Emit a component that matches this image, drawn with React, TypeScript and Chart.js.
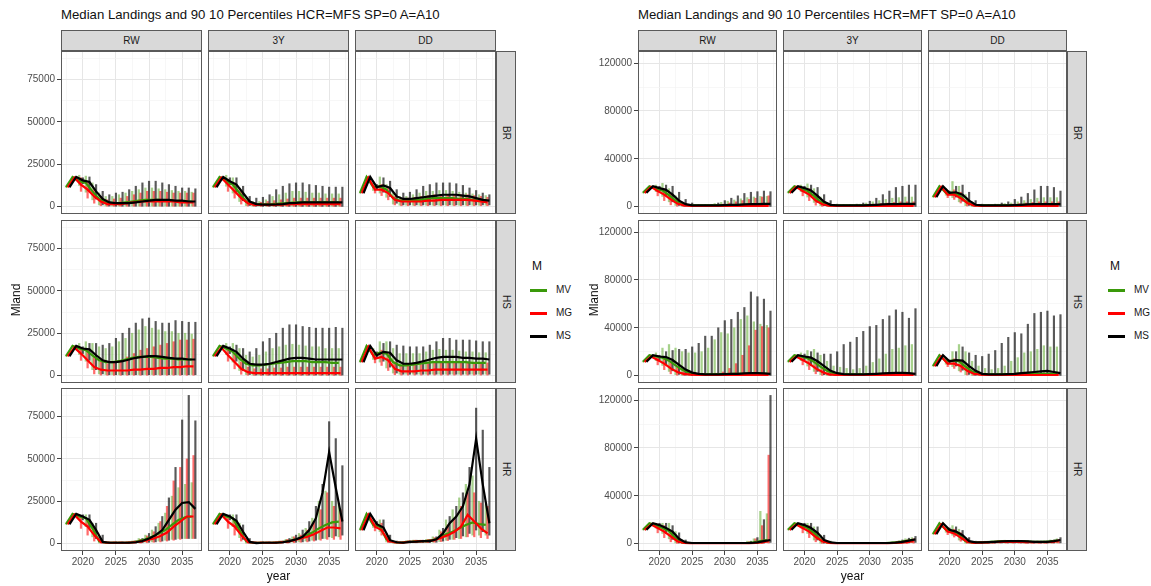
import React, { useEffect, useRef } from 'react';
import { Chart, registerables } from 'chart.js';
Chart.register(...registerables);
Chart.defaults.font.family = '"Liberation Sans", Arial, sans-serif';

// ---------------- data (values in thousands of Mland) ----------------
const YEARS = [2018, 2019, 2020, 2021, 2022, 2023, 2024, 2025, 2026, 2027, 2028, 2029, 2030, 2031, 2032, 2033, 2034, 2035, 2036, 2037];
const COLUMNS = ['RW', '3Y', 'DD'];
const ROWS = ['BR', 'HS', 'HR'];
const SERIES = ['MV', 'MG', 'MS'];
const UNIT = 1000;

// ===== HCR = MFS =====
const MFS_RW_BR_MV_MED = [11.5, 17.5, 15, 14, 9, 4.5, 2.5, 2, 2, 2.5, 3, 3.5, 4, 4, 4, 3.5, 3.5, 3, 3, 3];
const MFS_RW_BR_MV_LO = [11.5, 17, 12.5, 8.5, 4, 1, 0.4, 0.3, 0.3, 0.3, 0.3, 0.3, 0.3, 0.3, 0.3, 0.3, 0.3, 0.3, 0.3, 0.3];
const MFS_RW_BR_MV_HI = [11.5, 17.5, 18.5, 18, 14, 8, 6, 6, 7, 8, 9, 10, 11, 11, 10.5, 10, 9.5, 9, 9, 8.5];
const MFS_RW_BR_MG_MED = [11.5, 17, 13, 10, 6, 3, 1.5, 1.5, 1.5, 2, 2.5, 3, 3, 3, 3, 3, 3, 2.5, 2.5, 2.5];
const MFS_RW_BR_MG_LO = [11.5, 16, 9, 5, 2, 0.5, 0.2, 0.2, 0.2, 0.2, 0.2, 0.2, 0.2, 0.2, 0.2, 0.2, 0.2, 0.2, 0.2, 0.2];
const MFS_RW_BR_MG_HI = [11.5, 17.5, 17, 15, 10, 6, 4, 4.5, 5, 6, 7, 8, 9, 9, 9, 8.5, 8, 8, 8, 8];
const MFS_RW_BR_MS_MED = [11.5, 17.5, 15.5, 14.5, 9, 4.5, 2.5, 2, 2, 2, 2.5, 3, 3.5, 4, 4, 4, 3.5, 3.5, 3, 3];
const MFS_RW_BR_MS_LO = [11.5, 17.5, 13.5, 9.5, 4.5, 1, 0.3, 0.2, 0.2, 0.2, 0.2, 0.2, 0.2, 0.2, 0.2, 0.2, 0.2, 0.2, 0.2, 0.2];
const MFS_RW_BR_MS_HI = [11.5, 17.5, 17, 17.5, 13, 9, 7, 8, 8.5, 10, 12, 14, 15, 15, 14, 13, 12, 11, 11, 10.5];

const MFS_3Y_BR_MV_MED = [11.5, 17.5, 15, 13, 8, 3, 1.5, 1.3, 1.3, 1.5, 1.8, 2, 2.3, 2.5, 2.5, 2.5, 2.5, 2.5, 2.5, 2.5];
const MFS_3Y_BR_MV_LO = [11.5, 17, 12, 8, 3, 0.6, 0.2, 0.2, 0.2, 0.2, 0.2, 0.2, 0.2, 0.2, 0.2, 0.2, 0.2, 0.2, 0.2, 0.2];
const MFS_3Y_BR_MV_HI = [11.5, 17.5, 18.5, 17, 11, 5, 3, 3, 4, 6, 7, 8, 9, 9, 8.5, 8, 8, 7.5, 7.5, 7.5];
const MFS_3Y_BR_MG_MED = [11.5, 17, 13, 9, 5, 2, 1, 1, 1, 1, 1.2, 1.3, 1.5, 1.5, 1.5, 1.5, 1.5, 1.5, 1.5, 1.5];
const MFS_3Y_BR_MG_LO = [11.5, 16, 9, 5, 1.5, 0.3, 0.1, 0.1, 0.1, 0.1, 0.1, 0.1, 0.1, 0.1, 0.1, 0.1, 0.1, 0.1, 0.1, 0.1];
const MFS_3Y_BR_MG_HI = [11.5, 17.5, 16, 14, 9, 4, 2.5, 2.5, 3, 3.5, 4, 4.5, 5, 5, 5, 5, 5, 5, 5, 5];
const MFS_3Y_BR_MS_MED = [11.5, 17.5, 15, 13, 8, 3, 1.5, 1.2, 1.2, 1.3, 1.5, 2, 2.2, 2.5, 2.5, 2.5, 2.5, 2.5, 2.5, 2.5];
const MFS_3Y_BR_MS_LO = [11.5, 17.5, 13, 8.5, 3.5, 0.6, 0.2, 0.1, 0.1, 0.1, 0.1, 0.1, 0.1, 0.1, 0.1, 0.1, 0.1, 0.1, 0.1, 0.1];
const MFS_3Y_BR_MS_HI = [11.5, 17.5, 17, 17, 12, 6, 5, 5.5, 7, 10, 12, 13.5, 14, 14, 13, 12.5, 12, 11.5, 11.5, 11.5];

const MFS_DD_BR_MV_MED = [8, 17.5, 11.5, 12, 10, 5, 3.5, 3.5, 4, 4, 4.5, 5, 5, 5, 5, 4.5, 4.5, 4, 3.5, 3];
const MFS_DD_BR_MV_LO = [8, 17, 9.5, 8, 5.5, 1.5, 0.8, 0.8, 0.8, 0.8, 0.8, 0.8, 0.8, 0.8, 0.8, 0.8, 0.8, 0.8, 0.8, 0.8];
const MFS_DD_BR_MV_HI = [8, 17.5, 14, 17.5, 13, 8, 6, 6, 7, 8, 9, 9, 9.5, 9.5, 9, 8.5, 8, 7.5, 7, 6.5];
const MFS_DD_BR_MG_MED = [8, 17, 10, 10, 8, 4, 3, 3, 3, 3, 3.5, 3.5, 4, 4, 4, 4, 4, 3.5, 3, 2.5];
const MFS_DD_BR_MG_LO = [8, 16, 8, 6.5, 4, 1, 0.5, 0.5, 0.5, 0.5, 0.5, 0.5, 0.5, 0.5, 0.5, 0.5, 0.5, 0.5, 0.5, 0.5];
const MFS_DD_BR_MG_HI = [8, 17.5, 12, 13, 11, 6, 5, 5, 5.5, 6, 6.5, 7, 7, 7, 7, 7, 7, 6.5, 6, 5.5];
const MFS_DD_BR_MS_MED = [8, 17.5, 11.5, 12.5, 11, 6, 4.5, 4.5, 5, 5.5, 6, 6.5, 7, 7, 7, 6.5, 6, 5, 4, 3.5];
const MFS_DD_BR_MS_LO = [8, 17.5, 10, 8.5, 6, 2, 1, 1, 1, 1, 1, 1, 1, 1, 1, 1, 1, 1, 1, 1];
const MFS_DD_BR_MS_HI = [8, 17.5, 13, 17, 15, 10, 8, 8.5, 10, 12, 13, 14, 14, 14, 13.5, 12.5, 11, 9.5, 8, 7];

const MFS_RW_HS_MV_MED = [11.5, 17.5, 16, 15, 12, 9, 8, 8, 8.5, 9.5, 10.5, 11, 11, 11, 10.5, 10, 10, 9.5, 9.5, 9.5];
const MFS_RW_HS_MV_LO = [11.5, 17, 12.5, 8.5, 3.5, 1, 0.6, 0.6, 0.6, 0.6, 0.6, 0.6, 0.6, 0.6, 0.6, 0.6, 0.6, 0.6, 0.6, 0.6];
const MFS_RW_HS_MV_HI = [11.5, 17.5, 19, 20, 19, 17, 16, 17, 20, 22, 25, 27, 29, 28, 27, 26, 26, 25, 25, 24.5];
const MFS_RW_HS_MG_MED = [11.5, 16.5, 13, 9, 5, 3.5, 3, 3, 3, 3, 3.5, 3.5, 4, 4, 4.5, 4.5, 5, 5, 5.5, 5.5];
const MFS_RW_HS_MG_LO = [11.5, 16, 9, 4.5, 1, 0.3, 0.2, 0.2, 0.2, 0.2, 0.2, 0.2, 0.2, 0.2, 0.2, 0.2, 0.2, 0.2, 0.2, 0.2];
const MFS_RW_HS_MG_HI = [11.5, 17.5, 16, 15, 11, 8, 7, 8, 9, 11, 13, 15, 16, 17, 18, 19, 20, 21, 21, 21.5];
const MFS_RW_HS_MS_MED = [11.5, 17.5, 16, 15.5, 12, 9, 8, 8, 8.5, 9.5, 10.5, 11, 11.5, 11.5, 11, 10.5, 10, 10, 9.5, 9.5];
const MFS_RW_HS_MS_LO = [11.5, 17, 13, 9, 3.5, 1, 0.5, 0.5, 0.5, 0.5, 0.5, 0.5, 0.5, 0.5, 0.5, 0.5, 0.5, 0.5, 0.5, 0.5];
const MFS_RW_HS_MS_HI = [11.5, 17.5, 17, 19, 19, 18, 19, 22, 25, 28, 31, 33.5, 34, 32, 31, 31, 32.5, 32, 31.5, 31.5];

const MFS_3Y_HS_MV_MED = [11.5, 17.5, 16, 14, 10, 7, 6, 6, 6.5, 7, 7.5, 8, 8.5, 8.5, 8.5, 8, 8, 8, 7.5, 7.5];
const MFS_3Y_HS_MV_LO = [11.5, 17, 12.5, 8, 3, 0.6, 0.3, 0.3, 0.3, 0.3, 0.3, 0.3, 0.3, 0.3, 0.3, 0.3, 0.3, 0.3, 0.3, 0.3];
const MFS_3Y_HS_MV_HI = [11.5, 17.5, 19, 19, 16, 12, 11, 12, 14, 16, 17, 18, 18.5, 18, 17.5, 17, 17, 16, 16, 16];
const MFS_3Y_HS_MG_MED = [11.5, 16.5, 12, 8, 4, 2, 1.5, 1.5, 1.5, 1.5, 1.5, 1.5, 1.5, 1.5, 1.5, 1.5, 1.5, 1.5, 1.5, 1.5];
const MFS_3Y_HS_MG_LO = [11.5, 16, 8.5, 4, 0.8, 0.2, 0.1, 0.1, 0.1, 0.1, 0.1, 0.1, 0.1, 0.1, 0.1, 0.1, 0.1, 0.1, 0.1, 0.1];
const MFS_3Y_HS_MG_HI = [11.5, 17.5, 15, 13, 8, 5, 4, 4, 4, 4.5, 4.5, 5, 5, 5, 5, 5, 5, 5, 5, 5];
const MFS_3Y_HS_MS_MED = [11.5, 17.5, 16, 14, 10, 7, 6.5, 6.5, 7, 8, 9, 10, 10.5, 10.5, 10, 9.5, 9.5, 9.5, 9.5, 9.5];
const MFS_3Y_HS_MS_LO = [11.5, 17, 13, 8.5, 3, 0.6, 0.3, 0.3, 0.3, 0.3, 0.3, 0.3, 0.3, 0.3, 0.3, 0.3, 0.3, 0.3, 0.3, 0.3];
const MFS_3Y_HS_MS_HI = [11.5, 17.5, 17, 18, 16, 14, 16, 20, 22, 25, 28, 30, 30, 29, 28.5, 28, 28, 28, 28.5, 28];

const MFS_DD_HS_MV_MED = [8, 17.5, 12, 13.5, 13, 8, 6, 6, 6.5, 7, 7.5, 8, 8, 8, 8, 8, 8, 7.5, 7.5, 7.5];
const MFS_DD_HS_MV_LO = [8, 17, 9.5, 8, 4.5, 1.5, 0.8, 0.8, 0.8, 0.8, 0.8, 0.8, 0.8, 0.8, 0.8, 0.8, 0.8, 0.8, 0.8, 0.8];
const MFS_DD_HS_MV_HI = [8, 17.5, 16, 20, 20, 16, 13, 13, 13, 13, 14, 15, 15.5, 15, 15, 14.5, 14, 14, 13.5, 13.5];
const MFS_DD_HS_MG_MED = [8, 17, 10, 11, 9, 4, 2.5, 2.5, 2.5, 3, 3, 3.5, 3.5, 3.5, 3.5, 3.5, 3.5, 3.5, 3.5, 3.5];
const MFS_DD_HS_MG_LO = [8, 16, 7.5, 6, 3, 0.5, 0.3, 0.3, 0.3, 0.3, 0.3, 0.3, 0.3, 0.3, 0.3, 0.3, 0.3, 0.3, 0.3, 0.3];
const MFS_DD_HS_MG_HI = [8, 17.5, 13, 15, 13, 8, 6, 6, 6, 6.5, 7, 7.5, 7.5, 7.5, 7.5, 7.5, 7.5, 7.5, 7.5, 7.5];
const MFS_DD_HS_MS_MED = [8, 17.5, 12, 14, 13.5, 9, 7, 7, 7.5, 8.5, 9.5, 10.5, 11, 11, 11, 10.5, 10.5, 10, 10, 9.5];
const MFS_DD_HS_MS_LO = [8, 17, 10, 8.5, 5, 1.5, 0.8, 0.8, 0.8, 0.8, 0.8, 0.8, 0.8, 0.8, 0.8, 0.8, 0.8, 0.8, 0.8, 0.8];
const MFS_DD_HS_MS_HI = [8, 17.5, 14, 19, 20, 18, 17.5, 17, 17, 17, 18, 20, 22, 22, 21, 21, 21, 20.5, 20, 20];

const MFS_RW_HR_MV_MED = [11.5, 17.5, 16, 15, 9, 1.5, 0.5, 0.5, 0.5, 0.5, 0.8, 1.5, 2.5, 4, 6, 8, 11, 14, 15.5, 16];
const MFS_RW_HR_MV_LO = [11.5, 17, 14, 10, 4, 0.4, 0.2, 0.2, 0.2, 0.2, 0.3, 0.5, 0.8, 1, 1.5, 2, 2.5, 3, 3, 3];
const MFS_RW_HR_MV_HI = [11.5, 17.5, 17, 17, 12, 4, 1, 1, 1, 1, 1.5, 3, 5, 8, 12, 18, 28, 33, 35, 36];
const MFS_RW_HR_MG_MED = [11.5, 17, 13, 10, 5, 1, 0.5, 0.5, 0.5, 0.5, 0.8, 1.2, 2, 3, 4.5, 6.5, 10, 13, 16, 16];
const MFS_RW_HR_MG_LO = [11.5, 16, 9, 5, 1.5, 0.2, 0.1, 0.1, 0.1, 0.1, 0.2, 0.3, 0.5, 0.8, 1, 1.5, 2, 2.5, 3, 3];
const MFS_RW_HR_MG_HI = [11.5, 17.5, 16, 14, 9, 3, 1, 1, 1, 1, 1.5, 2.5, 4.5, 7, 13, 22, 37, 45, 50, 52];
const MFS_RW_HR_MS_MED = [11.5, 17.5, 16, 14, 8, 1, 0.5, 0.5, 0.5, 0.5, 0.8, 1.5, 3, 5, 8, 14, 20, 24, 24.5, 20.5];
const MFS_RW_HR_MS_LO = [11.5, 17, 14, 9, 3, 0.3, 0.2, 0.2, 0.2, 0.2, 0.3, 0.5, 0.8, 1, 1.5, 2, 2.5, 3, 3, 3];
const MFS_RW_HR_MS_HI = [11.5, 17.5, 17, 17, 12, 5, 1, 1, 1, 1, 1.5, 3, 6, 10, 16, 27, 45, 73, 87.5, 72.5];

const MFS_3Y_HR_MV_MED = [11.5, 17.5, 16, 15, 8, 1.5, 0.5, 0.5, 0.5, 0.5, 0.8, 1.2, 2, 3, 4.5, 6.5, 9, 11, 12.5, 13];
const MFS_3Y_HR_MV_LO = [11.5, 17, 14, 10, 3.5, 0.3, 0.1, 0.2, 0.2, 0.2, 0.3, 0.5, 0.8, 1, 1.5, 2, 2.5, 3, 3.5, 4];
const MFS_3Y_HR_MV_HI = [11.5, 17.5, 17, 17, 12, 3, 1, 1, 1, 1, 1.5, 2.5, 4, 6, 9, 15, 25, 31, 25, 24];
const MFS_3Y_HR_MG_MED = [11.5, 17, 13, 10, 5, 1, 0.5, 0.5, 0.5, 0.5, 0.8, 1.2, 2, 3, 4, 5.5, 7.5, 9.5, 9.5, 9];
const MFS_3Y_HR_MG_LO = [11.5, 16, 9, 5, 1.5, 0.2, 0.1, 0.1, 0.1, 0.1, 0.2, 0.3, 0.5, 0.8, 1, 1.5, 2, 2.5, 2.5, 2.5];
const MFS_3Y_HR_MG_HI = [11.5, 17.5, 16, 14, 8, 2, 1, 1, 1, 1, 1.5, 2.5, 4, 5, 8, 13, 20, 30, 22, 20];
const MFS_3Y_HR_MS_MED = [11.5, 17.5, 16, 13.5, 7, 1, 0.3, 0.5, 0.5, 0.5, 0.8, 1.5, 2.5, 4, 8, 15, 30, 54, 33, 13];
const MFS_3Y_HR_MS_LO = [11.5, 17, 14, 8.5, 2.5, 0.2, 0.1, 0.2, 0.2, 0.2, 0.3, 0.5, 0.8, 1, 1.5, 2, 3, 4, 4.5, 5];
const MFS_3Y_HR_MS_HI = [11.5, 17.5, 17, 17, 11, 3, 1, 1, 1, 1, 1.5, 3, 5, 8, 13, 22, 35, 72, 62, 46];

const MFS_DD_HR_MV_MED = [8, 17.5, 11, 10, 2.5, 1, 0.5, 1, 1.2, 1.5, 1.5, 2, 3.5, 5.5, 7, 9, 11, 12.5, 11.5, 11];
const MFS_DD_HR_MV_LO = [8, 17, 9.5, 7, 1, 0.3, 0.2, 0.4, 0.5, 0.6, 0.6, 0.8, 1.2, 2, 2.5, 3, 4, 5, 5, 5];
const MFS_DD_HR_MV_HI = [8, 17.5, 14, 14, 6, 1.5, 1, 1.5, 2, 2, 2.5, 4, 8, 14, 20, 27, 35, 40, 25, 23];
const MFS_DD_HR_MG_MED = [8, 17, 10, 8, 1.5, 0.8, 0.5, 1, 1.2, 1.5, 1.5, 2, 3.5, 5, 7, 10, 17, 13, 9, 6];
const MFS_DD_HR_MG_LO = [8, 16, 7.5, 5, 0.6, 0.2, 0.2, 0.4, 0.5, 0.6, 0.6, 0.8, 1.2, 1.8, 2.5, 3, 4, 4, 3.5, 3];
const MFS_DD_HR_MG_HI = [8, 17.5, 12, 12, 4, 1.2, 1, 1.5, 2, 2, 2.5, 3.5, 7, 11, 15, 22, 30, 30, 24, 22];
const MFS_DD_HR_MS_MED = [8, 17.5, 11.5, 9.5, 2, 0.8, 0.5, 1, 1.2, 1.5, 1.5, 2.5, 6, 12, 16, 22, 35, 62, 35, 12];
const MFS_DD_HR_MS_LO = [8, 17, 10, 7, 0.8, 0.3, 0.2, 0.4, 0.5, 0.6, 0.6, 0.8, 1.5, 2.5, 3.5, 4.5, 6, 8, 7, 5];
const MFS_DD_HR_MS_HI = [8, 17.5, 13, 14, 5, 1.5, 1, 1.5, 2, 2, 2.5, 4, 9, 16, 22, 30, 45, 80, 67, 45];

// ===== HCR = MFT =====
const MFT_RW_BR_MV_MED = [11.5, 17, 15, 13.5, 9.5, 5, 2, 1, 1, 1, 1, 1, 1, 1.2, 1.3, 1.5, 1.5, 1.5, 1.5, 1.5];
const MFT_RW_BR_MV_LO = [11.5, 16.5, 12.5, 8.5, 4, 1, 0.3, 0.1, 0.1, 0.1, 0.1, 0.1, 0.1, 0.1, 0.1, 0.1, 0.1, 0.1, 0.1, 0.1];
const MFT_RW_BR_MV_HI = [11.5, 17, 18, 19.5, 15, 9, 4, 2, 1.5, 1.5, 1.5, 2.5, 3.5, 4.5, 5.5, 6.5, 7.5, 8, 8.5, 8.5];
const MFT_RW_BR_MG_MED = [11.5, 16.5, 13, 10, 6, 2.5, 1, 0.5, 0.5, 0.5, 0.5, 0.5, 0.5, 0.5, 0.5, 0.5, 0.5, 0.5, 0.5, 0.5];
const MFT_RW_BR_MG_LO = [11.5, 16, 9, 5, 1.5, 0.3, 0.1, 0, 0, 0, 0, 0, 0, 0, 0, 0, 0, 0, 0, 0];
const MFT_RW_BR_MG_HI = [11.5, 17, 16, 15, 11, 6, 2.5, 1, 1, 1, 1, 1.5, 2, 3, 4, 5, 6, 7, 8, 9];
const MFT_RW_BR_MS_MED = [11.5, 17, 15.5, 14, 10, 5, 2, 1, 1, 1, 1, 1, 1.2, 1.5, 1.5, 1.8, 2, 2, 2.2, 2.2];
const MFT_RW_BR_MS_LO = [11.5, 16.5, 13, 9, 4, 1, 0.3, 0.1, 0.1, 0.1, 0.1, 0.1, 0.1, 0.1, 0.1, 0.1, 0.1, 0.1, 0.1, 0.1];
const MFT_RW_BR_MS_HI = [11.5, 17, 17, 18, 17, 12, 6, 3, 1.5, 1.5, 1.5, 3, 5, 7, 9, 11, 12, 12.5, 13, 12.5];

const MFT_3Y_BR_MV_MED = [11.5, 17, 15, 13, 9, 4, 1.5, 1, 1, 1, 1, 1, 1, 1.2, 1.3, 1.5, 1.5, 1.5, 1.5, 1.5];
const MFT_3Y_BR_MV_LO = [11.5, 16.5, 12.5, 8, 3.5, 0.8, 0.2, 0.1, 0.1, 0.1, 0.1, 0.1, 0.1, 0.1, 0.1, 0.1, 0.1, 0.1, 0.1, 0.1];
const MFT_3Y_BR_MV_HI = [11.5, 17, 18, 19, 15, 8, 3, 1.5, 1.5, 1.5, 1.5, 2, 3, 4, 5, 6, 7, 7.5, 8, 8];
const MFT_3Y_BR_MG_MED = [11.5, 16.5, 13, 10, 5, 2, 0.8, 0.5, 0.5, 0.5, 0.5, 0.5, 0.5, 0.5, 0.5, 0.5, 0.5, 0.5, 0.5, 0.5];
const MFT_3Y_BR_MG_LO = [11.5, 16, 9, 5, 1.2, 0.2, 0.1, 0, 0, 0, 0, 0, 0, 0, 0, 0, 0, 0, 0, 0];
const MFT_3Y_BR_MG_HI = [11.5, 17, 16, 15, 10, 5, 2, 1, 1, 1, 1, 1, 1.5, 2, 2.5, 3, 3.5, 4, 4, 4];
const MFT_3Y_BR_MS_MED = [11.5, 17, 15.5, 13.5, 9, 4, 1.5, 1, 1, 1, 1, 1, 1.2, 1.5, 1.8, 2, 2, 2.2, 2.2, 2.2];
const MFT_3Y_BR_MS_LO = [11.5, 16.5, 13, 8.5, 3.5, 0.8, 0.2, 0.1, 0.1, 0.1, 0.1, 0.1, 0.1, 0.1, 0.1, 0.1, 0.1, 0.1, 0.1, 0.1];
const MFT_3Y_BR_MS_HI = [11.5, 17, 17, 18, 16, 10, 5, 2, 1.5, 1.5, 2, 3, 4.5, 7, 10, 13, 16, 17, 18, 18];

const MFT_DD_BR_MV_MED = [8, 17, 11.5, 11.5, 9.5, 4.5, 1.5, 1, 1, 1, 1, 1, 1.2, 1.3, 1.5, 1.5, 1.5, 1.5, 1.5, 1.5];
const MFT_DD_BR_MV_LO = [8, 16.5, 9.5, 7.5, 4, 0.8, 0.2, 0.1, 0.1, 0.1, 0.1, 0.1, 0.1, 0.1, 0.1, 0.1, 0.1, 0.1, 0.1, 0.1];
const MFT_DD_BR_MV_HI = [8, 17, 15, 21, 17, 10, 4, 1.5, 1.5, 1.5, 2, 2.5, 3, 4, 5, 6, 7, 7.5, 7.5, 7.5];
const MFT_DD_BR_MG_MED = [8, 16.5, 10, 10, 7, 3, 1, 0.5, 0.5, 0.5, 0.5, 0.5, 0.5, 0.5, 0.5, 0.5, 0.5, 0.5, 0.5, 0.5];
const MFT_DD_BR_MG_LO = [8, 16, 7.5, 6, 3, 0.5, 0.1, 0, 0, 0, 0, 0, 0, 0, 0, 0, 0, 0, 0, 0];
const MFT_DD_BR_MG_HI = [8, 17, 12, 14, 12, 6, 2, 1, 1, 1, 1, 1.5, 2, 2.5, 3, 3.5, 4, 4, 4, 4];
const MFT_DD_BR_MS_MED = [8, 17, 11.5, 12, 10, 5, 1.5, 1, 1, 1, 1, 1, 1.2, 1.5, 1.8, 2, 2, 2, 2, 2];
const MFT_DD_BR_MS_LO = [8, 16.5, 10, 8, 4.5, 1, 0.2, 0.1, 0.1, 0.1, 0.1, 0.1, 0.1, 0.1, 0.1, 0.1, 0.1, 0.1, 0.1, 0.1];
const MFT_DD_BR_MS_HI = [8, 17, 13, 17, 18, 12, 5, 2, 1.5, 2, 3, 4, 6, 8, 11, 14, 17, 17, 16, 13];

const MFT_RW_HS_MV_MED = [11.5, 17, 16, 15, 12.5, 8.5, 5, 2.5, 1.5, 1, 1, 1, 1.2, 1.3, 1.5, 1.5, 1.5, 1.5, 1.5, 1.5];
const MFT_RW_HS_MV_LO = [11.5, 16.5, 12.5, 8.5, 3.5, 0.8, 0.3, 0.1, 0.1, 0.1, 0.1, 0.1, 0.1, 0.1, 0.1, 0.1, 0.1, 0.1, 0.1, 0.1];
const MFT_RW_HS_MV_HI = [11.5, 17, 19, 23, 26, 23, 20, 19, 19, 20, 23, 30, 36, 35, 40, 47, 50, 45, 43, 42];
const MFT_RW_HS_MG_MED = [11.5, 16, 13, 10, 6, 3, 1.5, 0.8, 0.5, 0.5, 0.5, 0.5, 0.5, 0.5, 0.5, 0.5, 0.5, 0.5, 0.5, 0.5];
const MFT_RW_HS_MG_LO = [11.5, 15.5, 9, 5, 1.5, 0.3, 0.1, 0, 0, 0, 0, 0, 0, 0, 0, 0, 0, 0, 0, 0];
const MFT_RW_HS_MG_HI = [11.5, 17, 16, 15, 12, 8, 4, 2, 1.5, 1.5, 1.5, 2, 3, 6, 10, 17, 25, 38, 41, 40];
const MFT_RW_HS_MS_MED = [11.5, 17, 16, 15.5, 13, 9, 5, 2.5, 1.5, 1, 1, 1, 1.2, 1.5, 1.5, 1.8, 2, 2, 1.8, 1.5];
const MFT_RW_HS_MS_LO = [11.5, 16.5, 13, 9, 4, 1, 0.3, 0.1, 0.1, 0.1, 0.1, 0.1, 0.1, 0.1, 0.1, 0.1, 0.1, 0.1, 0.1, 0.1];
const MFT_RW_HS_MS_HI = [11.5, 17, 17, 20, 21, 22, 22, 24, 27, 33, 33, 40, 46, 47, 53, 57, 70, 66, 64, 54];

const MFT_3Y_HS_MV_MED = [11.5, 17, 16, 14.5, 11.5, 7.5, 4, 2, 1.2, 1, 1, 1, 1, 1.2, 1.2, 1.2, 1.3, 1.3, 1.3, 1.3];
const MFT_3Y_HS_MV_LO = [11.5, 16.5, 12.5, 8, 3.5, 0.8, 0.2, 0.1, 0.1, 0.1, 0.1, 0.1, 0.1, 0.1, 0.1, 0.1, 0.1, 0.1, 0.1, 0.1];
const MFT_3Y_HS_MV_HI = [11.5, 17, 19, 21, 22, 17, 12, 8, 7, 6, 5, 6, 8, 11, 14, 18, 22, 23, 25, 26];
const MFT_3Y_HS_MG_MED = [11.5, 16, 13, 10, 6, 3, 1, 0.5, 0.5, 0.5, 0.5, 0.5, 0.5, 0.5, 0.5, 0.5, 0.5, 0.5, 0.5, 0.5];
const MFT_3Y_HS_MG_LO = [11.5, 15.5, 9, 5, 1.5, 0.2, 0, 0, 0, 0, 0, 0, 0, 0, 0, 0, 0, 0, 0, 0];
const MFT_3Y_HS_MG_HI = [11.5, 17, 16, 14, 11, 6, 3, 1.5, 1, 1, 1, 1, 1, 1, 1, 1, 1, 1, 1, 1];
const MFT_3Y_HS_MS_MED = [11.5, 17, 16, 15, 12, 8, 4, 2, 1.2, 1, 1, 1, 1.2, 1.5, 1.8, 2, 2.2, 2.2, 2, 1.5];
const MFT_3Y_HS_MS_LO = [11.5, 16.5, 13, 8.5, 3.5, 0.8, 0.2, 0.1, 0.1, 0.1, 0.1, 0.1, 0.1, 0.1, 0.1, 0.1, 0.1, 0.1, 0.1, 0.1];
const MFT_3Y_HS_MS_HI = [11.5, 17, 18, 20, 19, 18, 18, 20, 26, 28, 32, 37, 41, 42, 47, 50, 55, 53, 48, 56];

const MFT_DD_HS_MV_MED = [8, 17, 12, 12.5, 12, 7.5, 3.5, 1.5, 1, 1, 1, 1, 1.2, 1.5, 1.5, 1.5, 1.5, 1.5, 1.5, 1.5];
const MFT_DD_HS_MV_LO = [8, 16.5, 9.5, 7.5, 4, 0.8, 0.2, 0.1, 0.1, 0.1, 0.1, 0.1, 0.1, 0.1, 0.1, 0.1, 0.1, 0.1, 0.1, 0.1];
const MFT_DD_HS_MV_HI = [8, 17, 15, 20, 26, 20, 12, 8, 6, 5, 6, 8, 12, 15, 19, 20, 22, 25, 24, 24];
const MFT_DD_HS_MG_MED = [8, 16, 10, 10, 8, 4, 1.5, 0.8, 0.5, 0.5, 0.5, 0.5, 0.5, 0.5, 0.5, 0.5, 0.5, 0.5, 0.5, 0.5];
const MFT_DD_HS_MG_LO = [8, 15.5, 7.5, 6, 3, 0.5, 0.1, 0, 0, 0, 0, 0, 0, 0, 0, 0, 0, 0, 0, 0];
const MFT_DD_HS_MG_HI = [8, 17, 12, 14, 12, 8, 4, 2, 1.5, 1.5, 1.5, 1.5, 1.5, 1.5, 2, 2, 2, 2, 2, 2];
const MFT_DD_HS_MS_MED = [8, 17, 12, 13, 12.5, 8, 4, 1.5, 1, 1, 1, 1.2, 1.5, 2, 2.5, 3, 3.5, 4, 3, 2];
const MFT_DD_HS_MS_LO = [8, 16.5, 10, 8, 4.5, 1, 0.2, 0.1, 0.1, 0.1, 0.1, 0.1, 0.1, 0.1, 0.1, 0.1, 0.1, 0.1, 0.1, 0.1];
const MFT_DD_HS_MS_HI = [8, 17, 13, 20, 24, 19, 17, 16, 18, 21, 27, 32, 36, 35, 43, 52, 53, 54, 50, 51];

const MFT_RW_HR_MV_MED = [11.5, 17, 15.5, 13, 10.5, 4.5, 1, 0.5, 0.5, 0.5, 0.5, 0.5, 0.5, 0.5, 0.5, 0.5, 0.5, 1, 2, 3];
const MFT_RW_HR_MV_LO = [11.5, 16.5, 13, 8.5, 4, 0.6, 0.1, 0, 0, 0, 0, 0, 0, 0, 0, 0, 0, 0.2, 0.5, 1];
const MFT_RW_HR_MV_HI = [11.5, 17, 17, 17, 17, 10, 3, 1, 0.8, 0.8, 0.8, 0.8, 0.8, 0.8, 0.8, 0.8, 2, 4, 27, 25];
const MFT_RW_HR_MG_MED = [11.5, 16, 13, 10, 6, 2, 0.5, 0.3, 0.3, 0.3, 0.3, 0.3, 0.3, 0.3, 0.3, 0.3, 0.3, 0.5, 1, 2];
const MFT_RW_HR_MG_LO = [11.5, 15.5, 9, 5, 1.5, 0.2, 0, 0, 0, 0, 0, 0, 0, 0, 0, 0, 0, 0.1, 0.2, 0.5];
const MFT_RW_HR_MG_HI = [11.5, 17, 16, 15, 11, 5, 1.5, 0.8, 0.8, 0.8, 0.8, 0.8, 0.8, 0.8, 0.8, 0.8, 1.5, 4, 15, 74];
const MFT_RW_HR_MS_MED = [11.5, 17, 15.5, 13, 10, 4, 1, 0.5, 0.5, 0.5, 0.5, 0.5, 0.5, 0.5, 0.5, 0.5, 0.5, 1, 2, 3];
const MFT_RW_HR_MS_LO = [11.5, 16.5, 13, 8.5, 3.5, 0.5, 0.1, 0, 0, 0, 0, 0, 0, 0, 0, 0, 0, 0.2, 0.5, 1];
const MFT_RW_HR_MS_HI = [11.5, 17, 17, 17, 15, 9, 3, 1, 0.8, 0.8, 0.8, 0.8, 0.8, 0.8, 0.8, 0.8, 2, 5, 20, 124];

const MFT_3Y_HR_MV_MED = [11.5, 17, 15.5, 13, 9, 3, 1, 0.5, 0.5, 0.5, 0.5, 0.5, 0.5, 0.5, 0.5, 0.5, 0.8, 1.2, 2, 3];
const MFT_3Y_HR_MV_LO = [11.5, 16.5, 13, 8.5, 3, 0.4, 0.1, 0, 0, 0, 0, 0, 0, 0, 0, 0, 0.1, 0.2, 0.5, 0.8];
const MFT_3Y_HR_MV_HI = [11.5, 17, 17, 17, 14, 7, 2, 1, 0.8, 0.8, 0.8, 0.8, 0.8, 0.8, 0.8, 0.8, 1.2, 2.5, 4, 5];
const MFT_3Y_HR_MG_MED = [11.5, 16, 13, 10, 5.5, 2, 0.5, 0.3, 0.3, 0.3, 0.3, 0.3, 0.3, 0.3, 0.3, 0.3, 0.5, 0.8, 1.2, 2];
const MFT_3Y_HR_MG_LO = [11.5, 15.5, 9, 5, 1.5, 0.2, 0, 0, 0, 0, 0, 0, 0, 0, 0, 0, 0, 0.1, 0.2, 0.4];
const MFT_3Y_HR_MG_HI = [11.5, 17, 16, 15, 10, 4, 1.2, 0.6, 0.6, 0.6, 0.6, 0.6, 0.6, 0.6, 0.6, 0.6, 1, 1.8, 3, 4];
const MFT_3Y_HR_MS_MED = [11.5, 17, 15.5, 13, 9, 3, 1, 0.5, 0.5, 0.5, 0.5, 0.5, 0.5, 0.5, 0.5, 0.5, 0.8, 1.5, 2.5, 3.5];
const MFT_3Y_HR_MS_LO = [11.5, 16.5, 13, 8.5, 3, 0.4, 0.1, 0, 0, 0, 0, 0, 0, 0, 0, 0, 0.1, 0.3, 0.6, 1];
const MFT_3Y_HR_MS_HI = [11.5, 17, 17, 17, 14, 7, 2, 1, 0.8, 0.8, 0.8, 0.8, 0.8, 0.8, 0.8, 0.8, 1.5, 3, 4.5, 6];

const MFT_DD_HR_MV_MED = [8, 17, 11.5, 10.5, 7.5, 2, 0.8, 1, 1.2, 1.5, 1.8, 2, 2, 2, 1.8, 1.5, 1.5, 1.5, 1.8, 2.5];
const MFT_DD_HR_MV_LO = [8, 16.5, 9.5, 7, 3, 0.4, 0.2, 0.2, 0.3, 0.4, 0.5, 0.5, 0.5, 0.5, 0.4, 0.4, 0.4, 0.4, 0.5, 0.6];
const MFT_DD_HR_MV_HI = [8, 17, 14, 15, 12, 5, 1.5, 1.5, 2, 2.2, 2.5, 2.8, 2.8, 2.8, 2.5, 2.2, 2.2, 2.2, 3, 4];
const MFT_DD_HR_MG_MED = [8, 16, 10, 8.5, 5, 1.5, 0.5, 0.8, 1, 1.2, 1.5, 1.5, 1.5, 1.5, 1.3, 1.2, 1.2, 1.2, 1.5, 2];
const MFT_DD_HR_MG_LO = [8, 15.5, 7.5, 5.5, 2, 0.2, 0.1, 0.2, 0.2, 0.3, 0.4, 0.4, 0.4, 0.4, 0.3, 0.3, 0.3, 0.3, 0.4, 0.5];
const MFT_DD_HR_MG_HI = [8, 17, 12, 12, 9, 3.5, 1.2, 1.2, 1.5, 1.8, 2, 2.2, 2.2, 2.2, 2, 1.8, 1.8, 1.8, 2.5, 3.5];
const MFT_DD_HR_MS_MED = [8, 17, 11.5, 10, 7, 2, 1, 1, 1.2, 1.5, 1.8, 2, 2, 2, 1.8, 1.5, 1.5, 1.5, 2, 3];
const MFT_DD_HR_MS_LO = [8, 16.5, 10, 7, 3, 0.5, 0.2, 0.2, 0.3, 0.4, 0.5, 0.5, 0.5, 0.5, 0.4, 0.4, 0.4, 0.4, 0.5, 0.6];
const MFT_DD_HR_MS_HI = [8, 17, 13, 14, 11, 5, 2, 1.5, 1.8, 2, 2.2, 2.5, 2.5, 2.5, 2.3, 2, 2, 2, 3, 5];

// axis ticks
const X_GRID = [2017.5, 2020, 2022.5, 2025, 2027.5, 2030, 2032.5, 2035, 2037.5];
const X_LABELED = [2020, 2025, 2030, 2035];
const MFS_Y_GRID = [0, 12500, 25000, 37500, 50000, 62500, 75000, 87500];
const MFS_Y_LABELED = [0, 25000, 50000, 75000];
const MFT_Y_GRID = [0, 20000, 40000, 60000, 80000, 100000, 120000];
const MFT_Y_LABELED = [0, 40000, 80000, 120000];

// ---------------- helpers building tables from the arrays ----------------
type Trio = { med: number[]; lo: number[]; hi: number[] };
type PanelData = Record<string, Trio>;
const panel = (
  mvMed: number[], mvLo: number[], mvHi: number[],
  mgMed: number[], mgLo: number[], mgHi: number[],
  msMed: number[], msLo: number[], msHi: number[]
): PanelData => ({
  MV: { med: mvMed, lo: mvLo, hi: mvHi },
  MG: { med: mgMed, lo: mgLo, hi: mgHi },
  MS: { med: msMed, lo: msLo, hi: msHi },
});

const MFS_GRID: PanelData[][] = [
  [
    panel(MFS_RW_BR_MV_MED, MFS_RW_BR_MV_LO, MFS_RW_BR_MV_HI, MFS_RW_BR_MG_MED, MFS_RW_BR_MG_LO, MFS_RW_BR_MG_HI, MFS_RW_BR_MS_MED, MFS_RW_BR_MS_LO, MFS_RW_BR_MS_HI),
    panel(MFS_3Y_BR_MV_MED, MFS_3Y_BR_MV_LO, MFS_3Y_BR_MV_HI, MFS_3Y_BR_MG_MED, MFS_3Y_BR_MG_LO, MFS_3Y_BR_MG_HI, MFS_3Y_BR_MS_MED, MFS_3Y_BR_MS_LO, MFS_3Y_BR_MS_HI),
    panel(MFS_DD_BR_MV_MED, MFS_DD_BR_MV_LO, MFS_DD_BR_MV_HI, MFS_DD_BR_MG_MED, MFS_DD_BR_MG_LO, MFS_DD_BR_MG_HI, MFS_DD_BR_MS_MED, MFS_DD_BR_MS_LO, MFS_DD_BR_MS_HI),
  ],
  [
    panel(MFS_RW_HS_MV_MED, MFS_RW_HS_MV_LO, MFS_RW_HS_MV_HI, MFS_RW_HS_MG_MED, MFS_RW_HS_MG_LO, MFS_RW_HS_MG_HI, MFS_RW_HS_MS_MED, MFS_RW_HS_MS_LO, MFS_RW_HS_MS_HI),
    panel(MFS_3Y_HS_MV_MED, MFS_3Y_HS_MV_LO, MFS_3Y_HS_MV_HI, MFS_3Y_HS_MG_MED, MFS_3Y_HS_MG_LO, MFS_3Y_HS_MG_HI, MFS_3Y_HS_MS_MED, MFS_3Y_HS_MS_LO, MFS_3Y_HS_MS_HI),
    panel(MFS_DD_HS_MV_MED, MFS_DD_HS_MV_LO, MFS_DD_HS_MV_HI, MFS_DD_HS_MG_MED, MFS_DD_HS_MG_LO, MFS_DD_HS_MG_HI, MFS_DD_HS_MS_MED, MFS_DD_HS_MS_LO, MFS_DD_HS_MS_HI),
  ],
  [
    panel(MFS_RW_HR_MV_MED, MFS_RW_HR_MV_LO, MFS_RW_HR_MV_HI, MFS_RW_HR_MG_MED, MFS_RW_HR_MG_LO, MFS_RW_HR_MG_HI, MFS_RW_HR_MS_MED, MFS_RW_HR_MS_LO, MFS_RW_HR_MS_HI),
    panel(MFS_3Y_HR_MV_MED, MFS_3Y_HR_MV_LO, MFS_3Y_HR_MV_HI, MFS_3Y_HR_MG_MED, MFS_3Y_HR_MG_LO, MFS_3Y_HR_MG_HI, MFS_3Y_HR_MS_MED, MFS_3Y_HR_MS_LO, MFS_3Y_HR_MS_HI),
    panel(MFS_DD_HR_MV_MED, MFS_DD_HR_MV_LO, MFS_DD_HR_MV_HI, MFS_DD_HR_MG_MED, MFS_DD_HR_MG_LO, MFS_DD_HR_MG_HI, MFS_DD_HR_MS_MED, MFS_DD_HR_MS_LO, MFS_DD_HR_MS_HI),
  ],
];

const MFT_GRID: PanelData[][] = [
  [
    panel(MFT_RW_BR_MV_MED, MFT_RW_BR_MV_LO, MFT_RW_BR_MV_HI, MFT_RW_BR_MG_MED, MFT_RW_BR_MG_LO, MFT_RW_BR_MG_HI, MFT_RW_BR_MS_MED, MFT_RW_BR_MS_LO, MFT_RW_BR_MS_HI),
    panel(MFT_3Y_BR_MV_MED, MFT_3Y_BR_MV_LO, MFT_3Y_BR_MV_HI, MFT_3Y_BR_MG_MED, MFT_3Y_BR_MG_LO, MFT_3Y_BR_MG_HI, MFT_3Y_BR_MS_MED, MFT_3Y_BR_MS_LO, MFT_3Y_BR_MS_HI),
    panel(MFT_DD_BR_MV_MED, MFT_DD_BR_MV_LO, MFT_DD_BR_MV_HI, MFT_DD_BR_MG_MED, MFT_DD_BR_MG_LO, MFT_DD_BR_MG_HI, MFT_DD_BR_MS_MED, MFT_DD_BR_MS_LO, MFT_DD_BR_MS_HI),
  ],
  [
    panel(MFT_RW_HS_MV_MED, MFT_RW_HS_MV_LO, MFT_RW_HS_MV_HI, MFT_RW_HS_MG_MED, MFT_RW_HS_MG_LO, MFT_RW_HS_MG_HI, MFT_RW_HS_MS_MED, MFT_RW_HS_MS_LO, MFT_RW_HS_MS_HI),
    panel(MFT_3Y_HS_MV_MED, MFT_3Y_HS_MV_LO, MFT_3Y_HS_MV_HI, MFT_3Y_HS_MG_MED, MFT_3Y_HS_MG_LO, MFT_3Y_HS_MG_HI, MFT_3Y_HS_MS_MED, MFT_3Y_HS_MS_LO, MFT_3Y_HS_MS_HI),
    panel(MFT_DD_HS_MV_MED, MFT_DD_HS_MV_LO, MFT_DD_HS_MV_HI, MFT_DD_HS_MG_MED, MFT_DD_HS_MG_LO, MFT_DD_HS_MG_HI, MFT_DD_HS_MS_MED, MFT_DD_HS_MS_LO, MFT_DD_HS_MS_HI),
  ],
  [
    panel(MFT_RW_HR_MV_MED, MFT_RW_HR_MV_LO, MFT_RW_HR_MV_HI, MFT_RW_HR_MG_MED, MFT_RW_HR_MG_LO, MFT_RW_HR_MG_HI, MFT_RW_HR_MS_MED, MFT_RW_HR_MS_LO, MFT_RW_HR_MS_HI),
    panel(MFT_3Y_HR_MV_MED, MFT_3Y_HR_MV_LO, MFT_3Y_HR_MV_HI, MFT_3Y_HR_MG_MED, MFT_3Y_HR_MG_LO, MFT_3Y_HR_MG_HI, MFT_3Y_HR_MS_MED, MFT_3Y_HR_MS_LO, MFT_3Y_HR_MS_HI),
    panel(MFT_DD_HR_MV_MED, MFT_DD_HR_MV_LO, MFT_DD_HR_MV_HI, MFT_DD_HR_MG_MED, MFT_DD_HR_MG_LO, MFT_DD_HR_MG_HI, MFT_DD_HR_MS_MED, MFT_DD_HR_MS_LO, MFT_DD_HR_MS_HI),
  ],
];

// ---------------- styling ----------------
const LINE_COLORS: Record<string, string> = { MV: '#3A990A', MG: '#FF0000', MS: '#000000' };
const BAR_COLORS: Record<string, string> = { MV: 'rgba(80,165,25,0.5)', MG: 'rgba(255,10,10,0.6)', MS: 'rgba(25,25,25,0.72)' };
const BAR_WIDTH: Record<string, number> = { MV: 1.6, MG: 1.6, MS: 1.5 };
const DODGE: Record<string, number> = { MV: -0.55, MG: -0.28, MS: 0 };
const LINE_ORDER: Record<string, number> = { MV: 3, MG: 2, MS: 1 };
const BAR_ORDER: Record<string, number> = { MV: 12, MG: 11, MS: 10 };
const X_MIN = 2016.7;
const X_MAX = 2038.0;
const FONT = '"Liberation Sans", Arial, sans-serif';
const PH = 163;
const ROW_TOPS = [51, 220, 388];
const STRIP_TOP = 30;
const STRIP_H = 21;
const GAP = 6;

const borderPlugin = {
  id: 'panelBorder',
  afterDraw(chart: any) {
    const { ctx, chartArea: a } = chart;
    ctx.save();
    ctx.strokeStyle = '#5A5A5A';
    ctx.lineWidth = 1;
    ctx.strokeRect(Math.round(a.left) + 0.5, Math.round(a.top) + 0.5, Math.round(a.width) - 1, Math.round(a.height) - 1);
    ctx.restore();
  },
};

type PanelProps = {
  left: number; top: number; w: number; h: number;
  showY: boolean; showX: boolean; data: PanelData;
  yMin: number; yMax: number; yGrid: number[]; yLabeled: number[];
};

function Panel({ left, top, w, h, showY, showX, data, yMin, yMax, yGrid, yLabeled }: PanelProps) {
  const ref = useRef<HTMLCanvasElement>(null);
  const ml = showY ? 50 : 0;
  const mb = showX ? 22 : 0;
  useEffect(() => {
    if (!ref.current) return;
    const datasets: any[] = [];
    for (const s of SERIES) {
      datasets.push({
        type: 'bar',
        label: s + ' 10-90',
        data: YEARS.map((yr, i) => ({ x: yr + DODGE[s], y: [data[s].lo[i] * UNIT, data[s].hi[i] * UNIT] })),
        backgroundColor: BAR_COLORS[s],
        borderWidth: 0,
        barThickness: BAR_WIDTH[s],
        grouped: false,
        order: BAR_ORDER[s],
      });
    }
    for (const s of SERIES) {
      datasets.push({
        type: 'line',
        label: s,
        data: YEARS.map((yr, i) => ({ x: yr + DODGE[s], y: data[s].med[i] * UNIT })),
        borderColor: LINE_COLORS[s],
        backgroundColor: LINE_COLORS[s],
        borderWidth: 2.2,
        pointRadius: 0,
        tension: 0,
        order: LINE_ORDER[s],
      });
    }
    const isMajorX = (v: number) => X_LABELED.includes(v);
    const isMajorY = (v: number) => yLabeled.includes(v);
    const chart = new Chart(ref.current, {
      type: 'line',
      data: { datasets },
      plugins: [borderPlugin],
      options: {
        responsive: false,
        animation: false,
        devicePixelRatio: 1,
        layout: { padding: 0 },
        plugins: { legend: { display: false }, tooltip: { enabled: false } },
        scales: {
          x: {
            type: 'linear',
            min: X_MIN,
            max: X_MAX,
            bounds: 'data',
            offset: false,
            border: { display: false },
            grid: {
              offset: false,
              color: (c: any) => (isMajorX(c.tick?.value) ? '#E6E6E6' : '#F3F3F3'),
              lineWidth: (c: any) => (isMajorX(c.tick?.value) ? 1 : 0.7),
              drawTicks: showX,
              tickLength: 4,
              tickColor: (c: any) => (isMajorX(c.tick?.value) ? '#444' : 'rgba(0,0,0,0)'),
            },
            ticks: {
              display: showX,
              autoSkip: false,
              maxRotation: 0,
              padding: 1,
              color: '#4D4D4D',
              font: { family: FONT, size: 10 },
              callback: (v: any) => (isMajorX(Number(v)) ? String(v) : ''),
            },
            afterBuildTicks: (sc: any) => {
              sc.ticks = X_GRID.map((v) => ({ value: v }));
            },
            afterFit: (sc: any) => {
              sc.height = mb;
              sc.paddingLeft = 0; sc.paddingRight = 0; sc.paddingTop = 0; sc.paddingBottom = 0;
            },
          },
          y: {
            type: 'linear',
            min: yMin,
            max: yMax,
            bounds: 'data',
            border: { display: false },
            grid: {
              color: (c: any) => (isMajorY(c.tick?.value) ? '#E6E6E6' : '#F3F3F3'),
              lineWidth: (c: any) => (isMajorY(c.tick?.value) ? 1 : 0.7),
              drawTicks: showY,
              tickLength: 4,
              tickColor: (c: any) => (isMajorY(c.tick?.value) ? '#444' : 'rgba(0,0,0,0)'),
            },
            ticks: {
              display: showY,
              autoSkip: false,
              padding: 2,
              color: '#4D4D4D',
              font: { family: FONT, size: 10 },
              callback: (v: any) => (isMajorY(Number(v)) ? String(v) : ''),
            },
            afterBuildTicks: (sc: any) => {
              sc.ticks = yGrid.map((v) => ({ value: v }));
            },
            afterFit: (sc: any) => {
              sc.width = ml;
              sc.paddingLeft = 0; sc.paddingRight = 0; sc.paddingTop = 0; sc.paddingBottom = 0;
            },
          },
        },
      } as any,
    });
    return () => chart.destroy();
  }, []);
  return (
    <canvas
      ref={ref}
      width={ml + w}
      height={h + mb}
      style={{ position: 'absolute', left: left - ml, top, width: ml + w, height: h + mb }}
    />
  );
}

type FacetProps = {
  title: string; x0: number; pw: number; grid: PanelData[][];
  yMin: number; yMax: number; yGrid: number[]; yLabeled: number[];
  yTitleX: number; legendX: number;
};

function FacetPlot({ title, x0, pw, grid, yMin, yMax, yGrid, yLabeled, yTitleX, legendX }: FacetProps) {
  const colX = COLUMNS.map((_, c) => x0 + c * (pw + GAP));
  const stripX = colX[2] + pw;
  const textBase: React.CSSProperties = { position: 'absolute', fontFamily: FONT, whiteSpace: 'nowrap' };
  return (
    <>
      <div style={{ ...textBase, left: x0, top: 6, fontSize: 13.2, lineHeight: '17px', color: '#111' }}>{title}</div>
      {COLUMNS.map((name, c) => (
        <div key={'c' + name} style={{
          ...textBase, left: colX[c], top: STRIP_TOP, width: pw, height: STRIP_H, boxSizing: 'border-box',
          background: '#D9D9D9', border: '1px solid #5A5A5A', fontSize: 10, lineHeight: STRIP_H - 2 + 'px',
          textAlign: 'center', color: '#1A1A1A',
        }}>{name}</div>
      ))}
      {ROWS.map((name, r) => (
        <div key={'r' + name} style={{
          ...textBase, left: stripX, top: ROW_TOPS[r], width: 20, height: PH, boxSizing: 'border-box',
          background: '#D9D9D9', border: '1px solid #5A5A5A', display: 'flex', alignItems: 'center', justifyContent: 'center',
        }}>
          <span style={{ writingMode: 'vertical-rl', fontSize: 10, color: '#1A1A1A' }}>{name}</span>
        </div>
      ))}
      {grid.map((row, r) => row.map((d, c) => (
        <Panel key={r + '-' + c} left={colX[c]} top={ROW_TOPS[r]} w={pw} h={PH}
          showY={c === 0} showX={r === 2} data={d}
          yMin={yMin} yMax={yMax} yGrid={yGrid} yLabeled={yLabeled} />
      )))}
      <div style={{ ...textBase, left: colX[1] + pw / 2 - 40, width: 80, textAlign: 'center', top: 569, fontSize: 12, color: '#111' }}>year</div>
      <div style={{
        ...textBase, left: yTitleX - 40, width: 80, top: 293, textAlign: 'center', fontSize: 12, color: '#111',
        transform: 'rotate(-90deg)',
      }}>Mland</div>
      <div style={{ ...textBase, left: legendX + 2, top: 259, fontSize: 12, color: '#111' }}>M</div>
      {SERIES.map((s, i) => (
        <React.Fragment key={'lg' + s}>
          <div style={{ position: 'absolute', left: legendX, top: 289 + i * 23, width: 17, height: 2.5, background: LINE_COLORS[s] }} />
          <div style={{ ...textBase, left: legendX + 26, top: 284 + i * 23, fontSize: 10, lineHeight: '12px', color: '#1A1A1A' }}>{s}</div>
        </React.Fragment>
      ))}
    </>
  );
}

export default function App() {
  return (
    <div style={{ position: 'fixed', left: 0, top: 0, width: 1151, height: 586, background: '#fff', overflow: 'hidden' }}>
      <FacetPlot
        title="Median Landings and 90 10 Percentiles HCR=MFS SP=0 A=A10"
        x0={61} pw={141} grid={MFS_GRID}
        yMin={-4375} yMax={91875} yGrid={MFS_Y_GRID} yLabeled={MFS_Y_LABELED}
        yTitleX={16} legendX={530}
      />
      <FacetPlot
        title="Median Landings and 90 10 Percentiles HCR=MFT SP=0 A=A10"
        x0={638} pw={139} grid={MFT_GRID}
        yMin={-6200} yMax={130200} yGrid={MFT_Y_GRID} yLabeled={MFT_Y_LABELED}
        yTitleX={594} legendX={1108}
      />
    </div>
  );
}
